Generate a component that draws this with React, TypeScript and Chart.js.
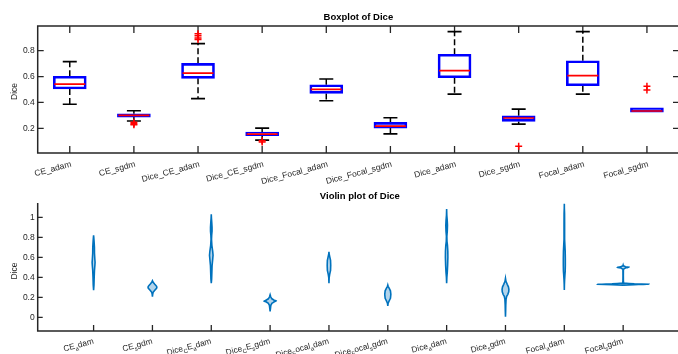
import React, { useEffect, useRef } from 'react';
import { Chart, registerables } from 'chart.js';

Chart.register(...registerables);

const FONT = '"Liberation Sans", Arial, Helvetica, sans-serif';
const AXIS_COLOR = '#262626';

// ---------- data ----------
const categories = ['CE_adam', 'CE_sgdm', 'Dice_CE_adam', 'Dice_CE_sgdm', 'Dice_Focal_adam', 'Dice_Focal_sgdm', 'Dice_adam', 'Dice_sgdm', 'Focal_adam', 'Focal_sgdm'];

const whiskerLow = [0.386, 0.257, 0.429, 0.110, 0.413, 0.158, 0.465, 0.233, 0.465, 0.326];
const quartile1 = [0.504, 0.287, 0.586, 0.143, 0.470, 0.202, 0.591, 0.254, 0.529, 0.326];
const medians = [0.542, 0.300, 0.627, 0.156, 0.501, 0.218, 0.645, 0.280, 0.607, 0.334];
const quartile3 = [0.602, 0.313, 0.702, 0.172, 0.537, 0.246, 0.772, 0.297, 0.722, 0.359];
const whiskerHigh = [0.715, 0.336, 0.854, 0.202, 0.581, 0.282, 0.947, 0.349, 0.947, 0.359];
const outliers: number[][] = [[], [0.247, 0.236, 0.228], [0.93, 0.915, 0.898, 0.885], [0.105, 0.094], [], [], [], [0.063], [], [0.525, 0.497]];

const boxYTicks = [0.2, 0.4, 0.6, 0.8];
const boxYTickLabels = ['0.2', '0.4', '0.6', '0.8'];

const violinYTicks = [0, 0.2, 0.4, 0.6, 0.8, 1];
const violinYTickLabels = ['0', '0.2', '0.4', '0.6', '0.8', '1'];

// violin density profiles: y levels and half widths (in x-axis units)
const violinY: number[][] = [
  [0.27, 0.32, 0.40, 0.47, 0.52, 0.55, 0.58, 0.64, 0.70, 0.76, 0.80, 0.82],
  [0.205, 0.23, 0.25, 0.27, 0.29, 0.30, 0.31, 0.33, 0.35, 0.366],
  [0.34, 0.38, 0.45, 0.52, 0.58, 0.62, 0.66, 0.72, 0.78, 0.82, 0.86, 0.90, 0.95, 0.99, 1.03],
  [0.06, 0.09, 0.12, 0.14, 0.155, 0.163, 0.171, 0.185, 0.205, 0.225],
  [0.34, 0.40, 0.43, 0.47, 0.52, 0.57, 0.61, 0.63, 0.656],
  [0.113, 0.14, 0.166, 0.19, 0.23, 0.265, 0.29, 0.31, 0.323],
  [0.34, 0.40, 0.45, 0.52, 0.60, 0.66, 0.72, 0.76, 0.81, 0.86, 0.92, 0.97, 1.02, 1.083],
  [0.006, 0.06, 0.12, 0.18, 0.21, 0.23, 0.255, 0.28, 0.305, 0.33, 0.36, 0.39],
  [0.273, 0.33, 0.373, 0.42, 0.46, 0.52, 0.59, 0.66, 0.72, 0.78, 0.86, 0.95, 1.04, 1.09, 1.135],
  [0.322, 0.327, 0.331, 0.335, 0.342, 0.36, 0.42, 0.48, 0.494, 0.50, 0.506, 0.515, 0.523],
];
const violinHalfWidth: number[][] = [
  [0, 0.006, 0.01, 0.015, 0.022, 0.025, 0.021, 0.015, 0.014, 0.008, 0.003, 0],
  [0, 0.004, 0.012, 0.04, 0.07, 0.075, 0.07, 0.04, 0.012, 0],
  [0, 0.006, 0.01, 0.014, 0.024, 0.03, 0.024, 0.01, 0.004, 0.007, 0.013, 0.013, 0.008, 0.003, 0],
  [0, 0.006, 0.012, 0.03, 0.07, 0.105, 0.07, 0.03, 0.01, 0],
  [0, 0.004, 0.012, 0.027, 0.03, 0.027, 0.012, 0.004, 0],
  [0, 0.005, 0.025, 0.045, 0.052, 0.045, 0.025, 0.006, 0],
  [0, 0.004, 0.011, 0.017, 0.021, 0.02, 0.014, 0.006, 0.004, 0.011, 0.014, 0.01, 0.003, 0],
  [0, 0.003, 0.005, 0.01, 0.02, 0.04, 0.055, 0.058, 0.05, 0.03, 0.008, 0],
  [0, 0.002, 0.005, 0.01, 0.015, 0.017, 0.017, 0.015, 0.01, 0.005, 0.005, 0.005, 0.004, 0.001, 0],
  [0, 0.19, 0.44, 0.19, 0.01, 0.004, 0.003, 0.004, 0.04, 0.1, 0.04, 0.004, 0],
];

// ---------- helpers ----------
function parseTex(s: string) {
  const segs: { t: string; sub: boolean }[] = [];
  let cur = '';
  for (let i = 0; i < s.length; i++) {
    if (s[i] === '_' && i + 1 < s.length) {
      if (cur) segs.push({ t: cur, sub: false });
      cur = '';
      segs.push({ t: s[i + 1], sub: true });
      i++;
    } else cur += s[i];
  }
  if (cur) segs.push({ t: cur, sub: false });
  return segs;
}

type DecorOpts = {
  title: string;
  fullBox: boolean;
  tex: boolean;
  yTicks: number[];
  labelDx: number;
  labelDy: number;
  labelRot: number;
  labelSize: number;
  xTickLen: number;
  yTickLen: number;
  titleY: number;
  yTitleDy: number;
};

function makeDecor(o: DecorOpts) {
  return {
    id: 'decor',
    beforeDatasetsDraw(chart: any) {
      const { ctx, chartArea: a, scales } = chart;
      const x = scales.x;
      const y = scales.y;
      ctx.save();
      ctx.strokeStyle = AXIS_COLOR;
      ctx.lineWidth = 1.3;
      ctx.beginPath();
      categories.forEach((_, i) => {
        const px = x.getPixelForValue(i + 1);
        ctx.moveTo(px, a.bottom);
        ctx.lineTo(px, a.bottom - o.xTickLen);
        if (o.fullBox) {
          ctx.moveTo(px, a.top);
          ctx.lineTo(px, a.top + o.xTickLen);
        }
      });
      o.yTicks.forEach((v) => {
        const py = y.getPixelForValue(v);
        ctx.moveTo(a.left, py);
        ctx.lineTo(a.left + o.yTickLen, py);
        if (o.fullBox) {
          ctx.moveTo(a.right, py);
          ctx.lineTo(a.right - o.yTickLen, py);
        }
      });
      ctx.stroke();
      ctx.lineWidth = 1.5;
      ctx.beginPath();
      if (o.fullBox) {
        ctx.rect(a.left, a.top, a.right - a.left, a.bottom - a.top);
      } else {
        ctx.moveTo(a.left, a.top);
        ctx.lineTo(a.left, a.bottom);
        ctx.lineTo(a.right, a.bottom);
      }
      ctx.stroke();
      ctx.restore();
    },
    afterDraw(chart: any) {
      const { ctx, chartArea: a, scales } = chart;
      const x = scales.x;
      ctx.save();
      ctx.fillStyle = AXIS_COLOR;
      // x tick labels
      categories.forEach((lab, i) => {
        const px = x.getPixelForValue(i + 1);
        ctx.save();
        ctx.translate(px + o.labelDx, a.bottom + o.labelDy);
        ctx.rotate((-o.labelRot * Math.PI) / 180);
        ctx.textBaseline = 'alphabetic';
        ctx.textAlign = 'left';
        const segs = o.tex ? parseTex(lab) : [{ t: lab, sub: false }];
        const subSize = o.labelSize * 0.72;
        let total = 0;
        const widths = segs.map((s) => {
          ctx.font = `${s.sub ? subSize : o.labelSize}px ${FONT}`;
          const w = ctx.measureText(s.t).width;
          total += w;
          return w;
        });
        let cx = -total;
        segs.forEach((s, k) => {
          ctx.font = `${s.sub ? subSize : o.labelSize}px ${FONT}`;
          ctx.fillText(s.t, cx, s.sub ? 2.6 : 0);
          cx += widths[k];
        });
        ctx.restore();
      });
      // title
      ctx.fillStyle = '#000';
      ctx.font = `bold 9.5px ${FONT}`;
      ctx.textAlign = 'center';
      ctx.textBaseline = 'middle';
      ctx.fillText(o.title, (a.left + a.right) / 2, o.titleY);
      // y title
      ctx.fillStyle = AXIS_COLOR;
      ctx.font = `8.5px ${FONT}`;
      ctx.save();
      ctx.translate(15, (a.top + a.bottom) / 2 + o.yTitleDy);
      ctx.rotate(-Math.PI / 2);
      ctx.fillText('Dice', 0, 0);
      ctx.restore();
      ctx.restore();
    },
  };
}

// ---------- box plot config ----------
function boxConfig(): any {
  const whiskerPts: any[] = [];
  const capPts: any[] = [];
  categories.forEach((_, i) => {
    whiskerPts.push({ x: i + 1, y: quartile3[i] }, { x: i + 1, y: whiskerHigh[i] }, { x: i + 1, y: null });
    whiskerPts.push({ x: i + 1, y: quartile1[i] }, { x: i + 1, y: whiskerLow[i] }, { x: i + 1, y: null });
    if (whiskerHigh[i] !== quartile3[i]) capPts.push({ x: i + 1, y: whiskerHigh[i] });
    if (whiskerLow[i] !== quartile1[i]) capPts.push({ x: i + 1, y: whiskerLow[i] });
  });
  const outlierPts: any[] = [];
  outliers.forEach((arr, i) => arr.forEach((v) => outlierPts.push({ x: i + 1, y: v })));
  return {
    type: 'bar',
    data: {
      datasets: [
        {
          type: 'bar',
          data: categories.map((_, i) => ({ x: i + 1, y: [quartile1[i], quartile3[i]] })),
          backgroundColor: 'rgba(0,0,0,0)',
          borderColor: '#0000FF',
          borderWidth: 2,
          borderSkipped: false,
          barThickness: 33,
          order: 2,
        },
        {
          type: 'line',
          data: whiskerPts,
          borderColor: '#000000',
          borderWidth: 1.5,
          borderDash: [6, 3],
          pointRadius: 0,
          spanGaps: false,
          fill: false,
          order: 4,
        },
        {
          type: 'scatter',
          data: capPts,
          pointStyle: 'line',
          pointRadius: 7,
          borderColor: '#000000',
          borderWidth: 1.7,
          order: 3,
        },
        {
          type: 'scatter',
          data: categories.map((_, i) => ({ x: i + 1, y: medians[i] })),
          pointStyle: 'line',
          pointRadius: 15.5,
          borderColor: '#FF0000',
          borderWidth: 1.7,
          order: 1,
        },
        {
          type: 'scatter',
          data: outlierPts,
          pointStyle: 'cross',
          pointRadius: 3.5,
          borderColor: '#FF0000',
          borderWidth: 1.5,
          order: 0,
        },
      ],
    },
    options: {
      animation: false,
      responsive: false,
      devicePixelRatio: 1,
      events: [],
      layout: { padding: { left: 0, top: 26, right: 21, bottom: 0 } },
      plugins: { legend: { display: false }, tooltip: { enabled: false }, title: { display: false } },
      scales: {
        x: {
          type: 'linear',
          min: 0.5,
          max: 10.5,
          offset: false,
          grid: { display: false },
          border: { display: false },
          ticks: { display: false },
          afterFit: (s: any) => { s.height = 39; },
        },
        y: {
          type: 'linear',
          min: 0.01,
          max: 0.99,
          grid: { display: false, drawTicks: false },
          border: { display: false },
          afterBuildTicks: (s: any) => { s.ticks = boxYTicks.map((v) => ({ value: v })); },
          ticks: {
            padding: 3,
            color: AXIS_COLOR,
            font: { size: 8.5, family: FONT },
            callback: (v: number) => boxYTickLabels[boxYTicks.indexOf(v)] ?? '',
          },
          afterFit: (s: any) => { s.width = 37.7; },
        },
      },
    },
    plugins: [makeDecor({ title: 'Boxplot of Dice', fullBox: true, tex: false, yTicks: boxYTicks, labelDx: 2, labelDy: 13.5, labelRot: 15, labelSize: 8.5, xTickLen: 7, yTickLen: 6, titleY: 17.5, yTitleDy: 2 })],
  };
}

// ---------- violin config ----------
function violinConfig(): any {
  const datasets = categories.map((_, i) => {
    const ys = violinY[i];
    const ws = violinHalfWidth[i];
    const right = ys.map((y, k) => ({ x: i + 1 + ws[k], y }));
    const left = ys.map((y, k) => ({ x: i + 1 - ws[k], y })).reverse();
    return {
      type: 'line',
      data: [...right, ...left, right[0]],
      borderColor: '#0072BD',
      backgroundColor: 'rgba(0,114,189,0.3)',
      borderWidth: 1.6,
      pointRadius: 0,
      tension: 0.001,
      fill: 'shape',
    };
  });
  return {
    type: 'line',
    data: { datasets },
    options: {
      animation: false,
      responsive: false,
      devicePixelRatio: 1,
      events: [],
      layout: { padding: { left: 0, top: 23, right: 18, bottom: 0 } },
      plugins: { legend: { display: false }, tooltip: { enabled: false }, title: { display: false } },
      scales: {
        x: {
          type: 'linear',
          min: 0.05,
          max: 11,
          offset: false,
          grid: { display: false },
          border: { display: false },
          ticks: { display: false },
          afterFit: (s: any) => { s.height = 23; },
        },
        y: {
          type: 'linear',
          min: -0.137,
          max: 1.143,
          grid: { display: false, drawTicks: false },
          border: { display: false },
          afterBuildTicks: (s: any) => { s.ticks = violinYTicks.map((v) => ({ value: v })); },
          ticks: {
            padding: 3,
            color: AXIS_COLOR,
            font: { size: 8.5, family: FONT },
            callback: (v: number) => violinYTickLabels[violinYTicks.indexOf(v)] ?? '',
          },
          afterFit: (s: any) => { s.width = 37.7; },
        },
      },
    },
    plugins: [makeDecor({ title: 'Violin plot of Dice', fullBox: false, tex: true, yTicks: violinYTicks, labelDx: 0.5, labelDy: 12.5, labelRot: 15, labelSize: 8.3, xTickLen: 6, yTickLen: 5, titleY: 16, yTitleDy: 4 })],
  };
}

function ChartCanvas({ make, top, height }: { make: () => any; top: number; height: number }) {
  const ref = useRef<HTMLCanvasElement>(null);
  useEffect(() => {
    const chart = new Chart(ref.current as HTMLCanvasElement, make());
    return () => chart.destroy();
  }, []);
  return (
    <canvas
      ref={ref}
      width={700}
      height={height}
      style={{ position: 'absolute', left: 0, top, width: 700, height }}
    />
  );
}

export default function App() {
  Chart.defaults.font.family = FONT;
  return (
    <div style={{ position: 'fixed', left: 0, top: 0, width: 678, height: 354, overflow: 'hidden', background: '#ffffff' }}>
      <ChartCanvas make={boxConfig} top={0} height={192} />
      <ChartCanvas make={violinConfig} top={180} height={174} />
    </div>
  );
}
